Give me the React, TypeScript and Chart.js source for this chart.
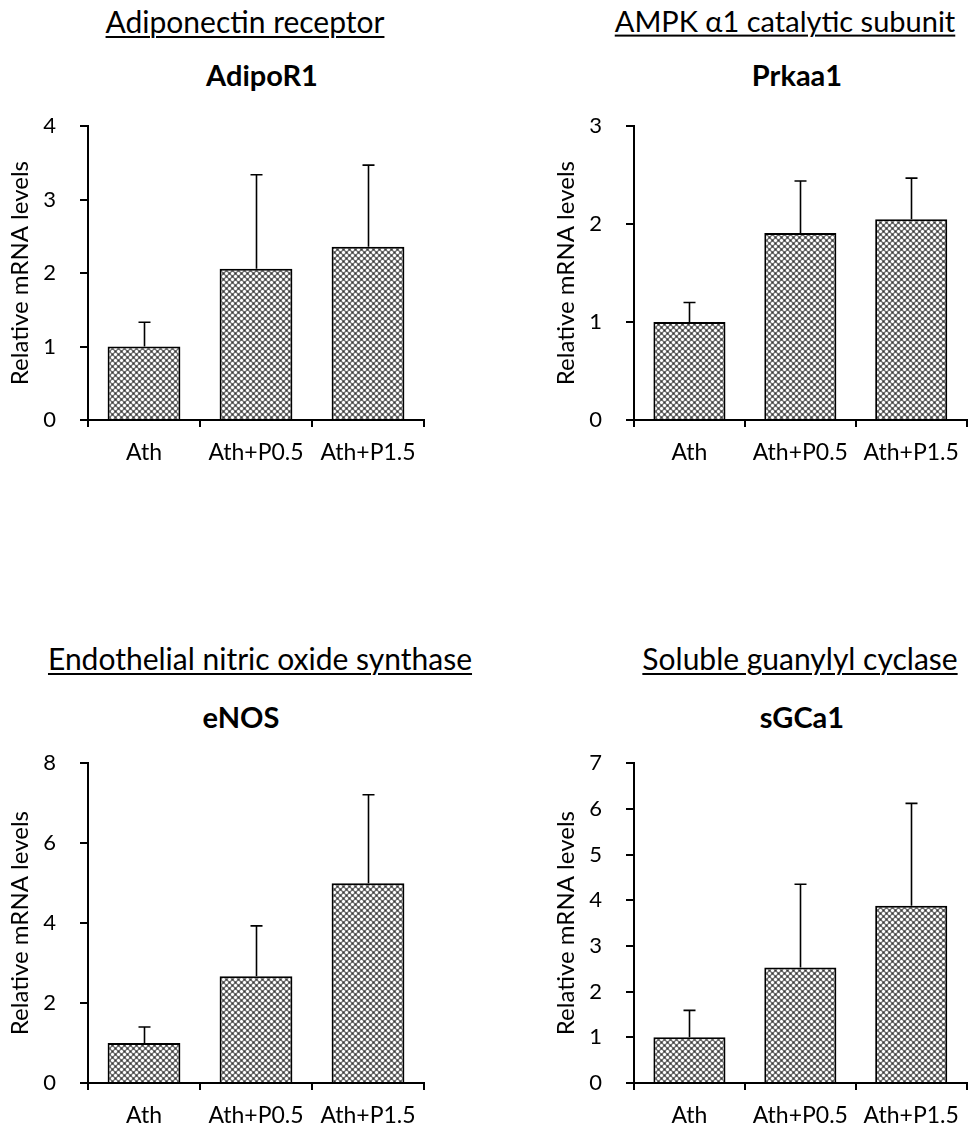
import React, { useEffect, useRef } from "react";
import { Chart, registerables } from "chart.js";

Chart.register(...registerables);

// ---------- data ----------
const groups = ["Ath", "Ath+P0.5", "Ath+P1.5"];

const adipoR1Values = [1.0, 2.06, 2.36];
const adipoR1SD = [0.33, 1.28, 1.11];

const prkaa1Values = [1.0, 1.91, 2.05];
const prkaa1SD = [0.2, 0.53, 0.42];

const enosValues = [1.0, 2.67, 5.0];
const enosSD = [0.4, 1.26, 2.21];

const sgca1Values = [1.0, 2.53, 3.88];
const sgca1SD = [0.59, 1.82, 2.24];

const yAxisTitle = "Relative mRNA levels";

const FONT = "Lato, 'Open Sans', sans-serif";

function makePattern(): CanvasPattern | string {
  const c = document.createElement("canvas");
  c.width = 6;
  c.height = 6;
  const g = c.getContext("2d");
  if (!g) return "#888";
  g.fillStyle = "#6a6a6a";
  g.fillRect(0, 0, 6, 6);
  g.fillStyle = "#c4c4c4";
  const diag = (x: number, y: number) => {
    g.fillRect(x - 1, y - 1, 1, 1);
    g.fillRect(x + 1, y - 1, 1, 1);
    g.fillRect(x - 1, y + 1, 1, 1);
    g.fillRect(x + 1, y + 1, 1, 1);
  };
  diag(1, 1);
  diag(4, 4);
  g.fillStyle = "#ffffff";
  const plus = (x: number, y: number) => {
    g.fillRect(x, y - 1, 1, 3);
    g.fillRect(x - 1, y, 3, 1);
  };
  plus(1, 1);
  plus(4, 4);
  g.fillStyle = "#3c3c3c";
  g.fillRect(4, 1, 1, 1);
  g.fillRect(1, 4, 1, 1);
  const p = g.createPattern(c, "repeat");
  return p || "#888";
}

const errorBarPlugin = {
  id: "errorBars",
  afterDatasetsDraw(chart: any, _args: any, opts: any) {
    const sd: number[] = opts.sd || [];
    const meta = chart.getDatasetMeta(0);
    const yScale = chart.scales.y;
    const vals: number[] = chart.data.datasets[0].data;
    const ctx = chart.ctx;
    ctx.save();
    ctx.strokeStyle = "#000";
    ctx.lineWidth = 1.6;
    meta.data.forEach((bar: any, i: number) => {
      const x = Math.round(bar.x) + 0.5;
      const y0 = bar.y;
      const y1 = yScale.getPixelForValue(vals[i] + sd[i]);
      ctx.beginPath();
      ctx.moveTo(x, y0);
      ctx.lineTo(x, y1);
      ctx.moveTo(x - 6, y1);
      ctx.lineTo(x + 6, y1);
      ctx.stroke();
    });
    ctx.restore();
  },
};

type PanelProps = {
  left: number;
  top: number;
  width: number;
  height: number;
  padRight: number;
  xAxisH: number;
  values: number[];
  sd: number[];
  max: number;
  step: number;
};

function Panel(p: PanelProps) {
  const ref = useRef<HTMLCanvasElement | null>(null);
  useEffect(() => {
    if (!ref.current) return;
    const pattern = makePattern();
    const chart = new Chart(ref.current, {
      type: "bar",
      data: {
        labels: groups,
        datasets: [
          {
            data: p.values,
            backgroundColor: pattern as any,
            borderColor: "#000",
            borderWidth: 2,
            barPercentage: 0.65,
            categoryPercentage: 1,
          },
        ],
      },
      options: {
        responsive: false,
        animation: false,
        maintainAspectRatio: false,
        layout: { padding: { top: 0, right: p.padRight, left: 0, bottom: 0 } },
        plugins: {
          legend: { display: false },
          tooltip: { enabled: false },
          errorBars: { sd: p.sd },
        } as any,
        scales: {
          x: {
            offset: true,
            grid: {
              offset: true,
              drawOnChartArea: false,
              drawTicks: true,
              tickLength: 7,
              color: "#000",
              lineWidth: 2,
            },
            border: { display: true, color: "#000", width: 2 },
            ticks: {
              color: "#000",
              font: { family: FONT, size: 23 },
              padding: 12,
              maxRotation: 0,
              autoSkip: false,
            },
            afterFit(s: any) {
              s.height = p.xAxisH;
            },
          },
          y: {
            min: 0,
            max: p.max,
            ticks: {
              stepSize: p.step,
              color: "#000",
              font: { family: FONT, size: 22 },
              padding: 24,
            },
            grid: {
              drawOnChartArea: false,
              drawTicks: true,
              tickLength: 8,
              color: "#000",
              lineWidth: 2,
            },
            border: { display: true, color: "#000", width: 2 },
            title: {
              display: true,
              text: yAxisTitle,
              color: "#000",
              font: { family: FONT, size: 24 },
              padding: { top: 6, bottom: 0 },
            },
            afterFit(s: any) {
              s.width = 88;
            },
          },
        },
      },
      plugins: [errorBarPlugin],
    });
    return () => chart.destroy();
  }, []);
  return (
    <canvas
      ref={ref}
      width={p.width}
      height={p.height}
      style={{
        position: "absolute",
        left: p.left,
        top: p.top,
        width: p.width,
        height: p.height,
      }}
    />
  );
}

function Title(props: { text: string; cx: number; cy: number; bold?: boolean; underline?: boolean; size: number }) {
  return (
    <div
      style={{
        position: "absolute",
        left: props.cx,
        top: props.cy,
        transform: "translate(-50%, -50%)",
        whiteSpace: "nowrap",
        fontFamily: FONT,
        fontSize: props.size,
        fontWeight: props.bold ? 700 : 400,
        textDecoration: props.underline ? "underline" : "none",
        textUnderlineOffset: 3,
        textDecorationThickness: 2,
        lineHeight: 1.2,
        color: "#000",
      }}
    >
      {props.text}
    </div>
  );
}

export default function App() {
  return (
    <div
      style={{
        position: "absolute",
        left: 0,
        top: 0,
        width: 971,
        height: 1132,
        overflow: "hidden",
        background: "#fff",
      }}
    >
      <Title text="Adiponectin receptor" cx={245} cy={21} underline size={30} />
      <Title text="AdipoR1" cx={262} cy={75} bold size={29} />
      <Title text="AMPK α1 catalytic subunit" cx={785} cy={21} underline size={29} />
      <Title text="Prkaa1" cx={797} cy={75} bold size={29} />
      <Title text="Endothelial nitric oxide synthase" cx={260} cy={658} underline size={30} />
      <Title text="eNOS" cx={241} cy={717} bold size={29} />
      <Title text="Soluble guanylyl cyclase" cx={800} cy={658} underline size={30} />
      <Title text="sGCa1" cx={802} cy={717} bold size={29} />

      <Panel left={0} top={89} width={440} height={391} padRight={16} xAxisH={60}
        values={adipoR1Values} sd={adipoR1SD} max={4} step={1} />
      <Panel left={546} top={89} width={425} height={391} padRight={1} xAxisH={60}
        values={prkaa1Values} sd={prkaa1SD} max={3} step={1} />
      <Panel left={0} top={726} width={440} height={406} padRight={16} xAxisH={49}
        values={enosValues} sd={enosSD} max={8} step={2} />
      <Panel left={546} top={726} width={425} height={406} padRight={1} xAxisH={49}
        values={sgca1Values} sd={sgca1SD} max={7} step={1} />
    </div>
  );
}
